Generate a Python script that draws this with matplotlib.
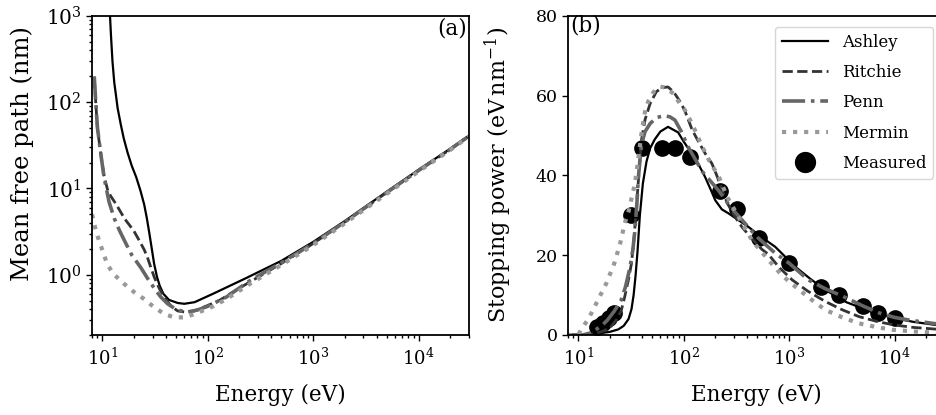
import numpy as np
import matplotlib
matplotlib.use('Agg')
import matplotlib.pyplot as plt

plt.rcParams['font.family'] = ['DejaVu Serif']
plt.rcParams['mathtext.fontset'] = 'dejavuserif'

#mean free path (nm)
e_ashley_mfp = [11.85, 12.1, 12.5, 13, 13.5, 14, 15, 16, 17.4, 19, 21, 23, 25, 26.5, 28, 29.5, 31,
                33, 35, 38, 43, 52, 60, 75, 112, 234, 500, 1000, 2000, 5000, 1e4, 2e4, 3e4]
mfp_ashley = [1000, 600, 300, 170, 120, 85, 55, 38, 26, 18.5, 13.5, 9.5, 6.5, 4.5, 3, 2, 1.35,
              0.95, 0.75, 0.6, 0.51, 0.47, 0.46, 0.48, 0.6, 0.92, 1.45, 2.4, 4.2, 9.2, 16.5, 29, 41]

e_ritchie_mfp = [8.4, 8.7, 9.0, 9.7, 10.4, 11.2, 12, 13.5, 15, 16.2, 18, 20, 22, 25, 27, 29, 31.2,
                 35, 38.9, 45, 52, 60, 75, 100, 128, 200, 500, 1000, 2000, 5000, 1e4, 2e4, 3e4]
mfp_ritchie = [190, 95, 50, 25, 14, 9.8, 8.2, 6.6, 5.3, 4.5, 3.8, 3.2, 2.6, 1.95, 1.55, 1.2, 0.93,
               0.68, 0.545, 0.43, 0.38, 0.37, 0.38, 0.44, 0.5, 0.7, 1.35, 2.3, 4.1, 9.0, 16.2, 28.5, 40.5]

e_penn_mfp = [8.4, 8.7, 9.0, 9.7, 10.4, 11.6, 13, 14.5, 16.2, 19, 23.3, 27, 32.4, 36, 41.7, 48, 56,
              65, 80, 100, 150, 250, 500, 1000, 2000, 5000, 1e4, 2e4, 3e4]
mfp_penn = [200, 97, 51, 25, 13.5, 7, 4.5, 3.3, 2.5, 1.7, 1.2, 0.9, 0.65, 0.55, 0.46, 0.41, 0.38,
            0.37, 0.39, 0.43, 0.55, 0.85, 1.38, 2.3, 4.1, 9.0, 16.2, 28.5, 40.5]

e_mermin_mfp = [8, 8.7, 9.4, 10, 11.2, 13, 16.2, 20, 25.1, 31, 38.9, 48, 60.4, 75, 108, 150, 250,
                500, 1000, 2000, 5000, 1e4, 2e4, 3e4]
mfp_mermin = [5, 3.25, 2.4, 1.95, 1.3, 1.0, 0.78, 0.63, 0.52, 0.42, 0.35, 0.32, 0.32, 0.35, 0.42,
              0.52, 0.78, 1.3, 2.2, 3.95, 8.7, 15.8, 28, 40]

#stopping power (eV/nm)
e_ashley_sp = [8, 11, 14, 20, 24, 27, 30, 32, 33.5, 35, 36.5, 38.4, 41, 44.4, 48, 53, 60, 71, 88.6,
               100, 119, 140, 159, 180, 199, 230, 266, 330, 411, 550, 738, 1145, 1600, 2200, 3500,
               6660, 1e4, 1.5e4, 3e4]
sp_ashley = [0, 0, 0.2, 0.8, 1.4, 2.3, 4, 6.5, 10, 15, 21, 30, 38, 43.5, 46.8, 49, 51, 52.2, 50.8,
             48.5, 45.5, 42.5, 39.7, 36.5, 33.8, 31.5, 30.5, 28.8, 27.1, 24.5, 22.1, 17.1, 14, 11.3,
             8.2, 5.4, 4.2, 3.3, 2.2]

e_ritchie_sp = [8, 11, 14, 17, 20, 23, 25.5, 27.6, 30, 32, 34, 35.6, 37.5, 39.8, 43, 48, 55, 62, 71,
                80, 90, 102, 120, 138, 160, 185, 206, 230, 260, 300, 358, 450, 550, 637, 800, 1070,
                1500, 2200, 3200, 4600, 7000, 1e4, 1.5e4, 3e4]
sp_ritchie = [0, 0, 0.3, 0.9, 1.8, 3.8, 6, 9.6, 14, 18, 25, 32, 40, 48.9, 54, 58, 61, 62, 62.2,
              61, 59, 56.4, 51.5, 48.5, 45.5, 43, 40, 36.5, 33, 30, 27, 24, 21.5, 20.2, 17, 13.8,
              11, 8.4, 6.3, 4.6, 3.3, 2.5, 1.9, 1.3]

e_penn_sp = [8, 11, 13, 15, 17, 19, 22, 25.6, 28, 31, 33, 34.5, 36, 37, 38.5, 40, 43, 48, 55, 65,
             74, 82.6, 95, 110, 150, 213, 280, 358, 500, 738, 1000, 1520, 2200, 3170, 5000, 7000,
             1e4, 1.4e4, 3e4]
sp_penn = [0, 0, 0.5, 1.5, 2.5, 3.8, 6, 8.8, 12, 17, 21.5, 26.3, 33, 38.8, 44, 48, 51, 53, 54.5,
           55, 54.7, 53.9, 51, 47.2, 41, 36.3, 32, 28.8, 24.5, 20.5, 18, 13.8, 11.6, 9.8, 7.3, 5.6,
           4.4, 3.7, 2.5]

e_mermin_sp = [8, 10, 10.7, 12.5, 15.4, 18.5, 22, 25, 27.6, 30, 34.5, 37, 40, 43, 46, 52, 60, 68,
               80, 92, 102, 120, 148, 180, 213, 260, 358, 450, 637, 850, 1145, 1600, 2200, 3200,
               4600, 7000, 9600, 1.5e4, 3e4]
sp_mermin = [0, 0, 1.5, 4, 8.8, 13, 18, 23, 28, 31, 38, 44, 51, 56, 58.5, 61, 62.3, 62, 60.5, 58,
             56.5, 53, 47.5, 43, 40, 34.5, 28, 23.5, 18.8, 15, 12.1, 9, 6.3, 4.4, 2.9, 1.9, 1.3,
             0.9, 0.4]

e_measured = [15, 17, 19.5, 22, 31.5, 40, 62, 82, 115, 222, 323, 521, 1000, 2000, 3000, 5000, 7000, 10000]
sp_measured = [2, 3, 4.2, 5.4, 30, 47, 47, 47, 44.7, 36, 31.7, 24.2, 18, 12.1, 10, 7.3, 5.4, 4.3]

#line styles for the four models
styles = {
    'Ashley': dict(color='black', ls='-', lw=1.6),
    'Ritchie': dict(color='0.2', ls='--', lw=2.0),
    'Penn': dict(color='0.4', ls='-.', lw=2.6),
    'Mermin': dict(color='0.6', ls=':', lw=3.0),
}

fig = plt.figure(figsize=(9.37, 4.15), dpi=100)
ax1 = fig.add_axes([0.0982, 0.1928, 0.4023, 0.7687])
ax2 = fig.add_axes([0.6062, 0.1928, 0.4023, 0.7687])

#panel (a)
ax1.plot(e_ashley_mfp, mfp_ashley, label='Ashley', **styles['Ashley'])
ax1.plot(e_ritchie_mfp, mfp_ritchie, label='Ritchie', **styles['Ritchie'])
ax1.plot(e_penn_mfp, mfp_penn, label='Penn', **styles['Penn'])
ax1.plot(e_mermin_mfp, mfp_mermin, label='Mermin', **styles['Mermin'])
ax1.set_xscale('log')
ax1.set_yscale('log')
ax1.set_xlim(8, 3e4)
ax1.set_ylim(0.2, 1000)
ax1.set_xlabel('Energy (eV)', fontsize=15.5, labelpad=11)
ax1.set_ylabel('Mean free path (nm)', fontsize=17.5)
ax1.yaxis.set_label_coords(-0.155, 0.57)
ax1.text(0.995, 0.995, '(a)', transform=ax1.transAxes, ha='right', va='top', fontsize=15.5)

#panel (b)
ax2.plot(e_ashley_sp, sp_ashley, label='Ashley', **styles['Ashley'])
ax2.plot(e_ritchie_sp, sp_ritchie, label='Ritchie', **styles['Ritchie'])
ax2.plot(e_penn_sp, sp_penn, label='Penn', **styles['Penn'])
ax2.plot(e_mermin_sp, sp_mermin, label='Mermin', **styles['Mermin'])
ax2.plot(e_measured, sp_measured, 'o', color='black', ms=11, label='Measured', zorder=1.5)
ax2.set_xscale('log')
ax2.set_xlim(8, 3e4)
ax2.set_ylim(0, 80)
ax2.set_yticks([0, 20, 40, 60, 80])
ax2.set_xlabel('Energy (eV)', fontsize=15.5, labelpad=11)
ax2.set_ylabel(r'Stopping power (eV$\,$nm$^{-1}$)', fontsize=16)
ax2.yaxis.set_label_coords(-0.143, 0.5)
ax2.text(0.005, 1.005, '(b)', transform=ax2.transAxes, ha='left', va='top', fontsize=15.5)
ax2.legend(loc='upper right', bbox_to_anchor=(933 / 937, 1 - 27 / 415), bbox_transform=fig.transFigure,
           borderaxespad=0, fontsize=12, handlelength=2.8, labelspacing=0.8, markerscale=1.3)

for ax in (ax1, ax2):
    ax.tick_params(which='both', direction='out', width=1)
    ax.tick_params(axis='x', labelsize=13, pad=5)
    ax.tick_params(which='major', length=4)
    ax.tick_params(which='minor', length=2.5)
    for sp in ax.spines.values():
        sp.set_linewidth(1.3)
ax1.tick_params(axis='y', labelsize=14.5)
ax2.tick_params(axis='y', labelsize=12.5)

fig.savefig('out.png', dpi=100)
